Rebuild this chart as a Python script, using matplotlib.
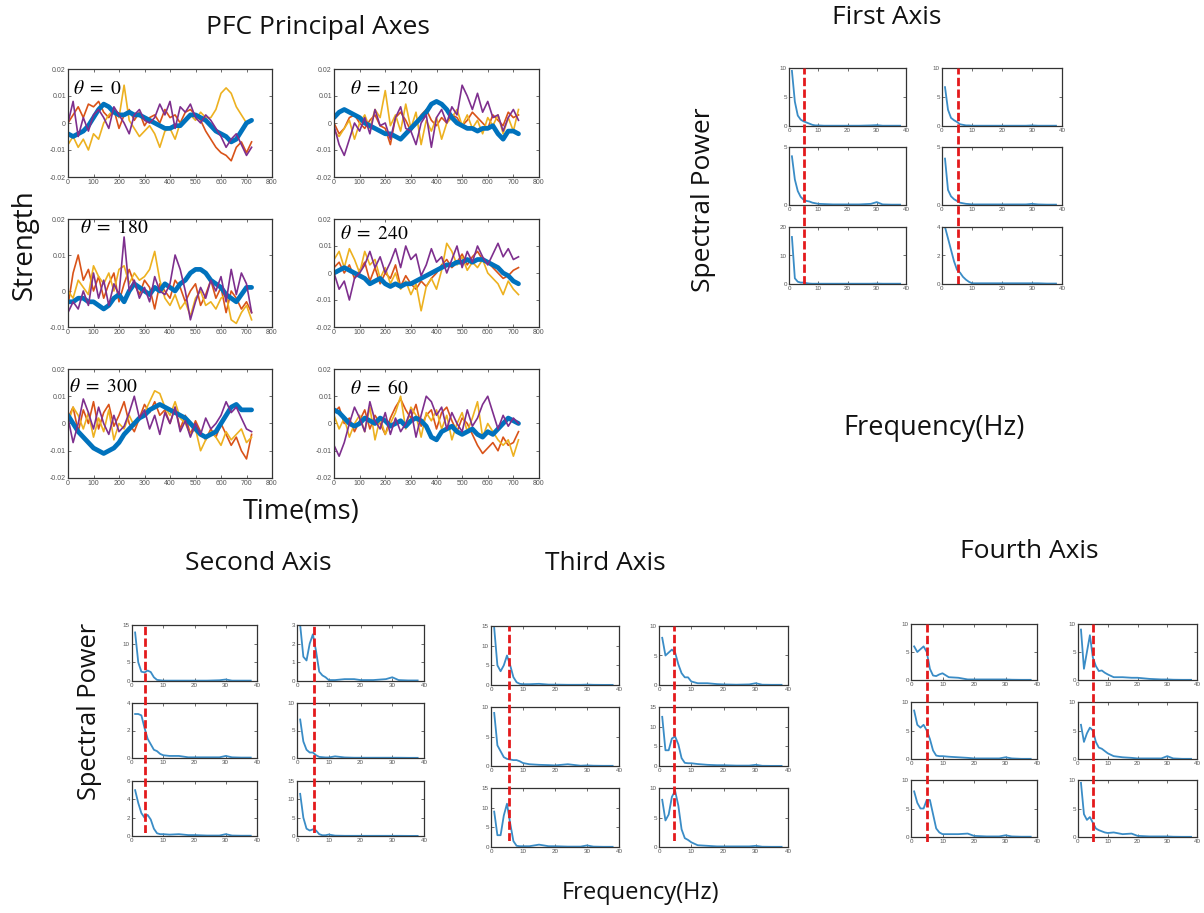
import matplotlib
matplotlib.use("Agg")
import matplotlib.pyplot as plt
import numpy as np

W, H = 1204, 913

# ---------------- time courses (strength, units of 1e-3) ----------------
time_ms = [0, 20, 40, 60, 80, 100, 120, 140, 160, 180, 200, 220, 240, 260, 280, 300, 320, 340,
           360, 380, 400, 420, 440, 460, 480, 500, 520, 540, 560, 580, 600, 620, 640, 660, 680, 700, 720]

th0_blue = [-4, -5, -4, -3, -1, 2, 5, 7, 6, 4, 3, 3, 4, 3, 3, 2, 1, 0, -1, -2, -2, -1, -1, 1, 3, 3,
            2, 1, -1, -3, -4, -5, -7, -6, -3, 0, 1]
th0_orange = [0, 3, 6, 2, 7, 6, 8, 4, 2, 5, -2, 3, 5, 1, 4, -1, 2, 3, 0, 5, 2, 3, 0, 4, 5, 3, 1,
              -3, -6, -9, -11, -12, -14, -9, -7, -11, -7]
th0_yellow = [-8, -5, -9, -6, -10, -4, -6, 0, 3, 5, 2, 14, 1, -2, -5, -3, -1, -4, -9, -3, -2, -6,
              0, 1, 3, 1, 4, 2, 2, 5, 11, 13, 11, 6, 3, 0, 1]
th0_purple = [0, 8, -5, 2, -3, 3, 5, 2, -2, 6, 3, 0, -4, 3, 5, 1, 0, 2, 7, 3, 8, -2, 6, 4, 7, 2, 0,
              3, 1, -2, -5, -9, -6, -4, -8, -12, -9]

th120_blue = [2, 4, 5, 4, 3, 2, 0, -1, -2, -3, -4, -4, -5, -6, -4, -2, 0, 2, 4, 7, 8, 7, 5, 2, 0,
              -1, -2, -2, -3, -2, -2, -1, -4, -6, -3, -3, -4]
th120_orange = [0, -4, -2, 2, 3, 0, -2, 1, 3, -1, -2, -8, 2, 4, 1, -3, 0, 3, 5, 1, -1, 2, 0, 3, 2,
                -1, 1, 4, 2, 0, -2, 3, 1, -1, 4, 2, 3]
th120_yellow = [-3, -5, -2, 1, -6, 0, 3, -2, 5, 2, 12, -1, 3, -3, 7, -2, 4, -8, 1, -3, 2, -6, 0, 2,
                5, -1, 3, -2, 1, -4, 2, -1, 3, -4, 2, -3, 5]
th120_purple = [-1, -8, -12, -6, 0, -3, 2, -4, 5, -1, 0, -6, 2, 6, -2, -3, -8, 0, 3, -9, 2, 5, 0, 6,
                3, 14, 10, 5, 11, 4, 8, 2, 3, -3, 2, 5, 1]

th180_blue = [-3, -3, -2, -2, -3, -3, -4, -5, -4, -2, -1, -3, 0, 2, 1, 0, -1, 1, 0, 2, 1, 0, 2, 3,
              5, 6, 6, 5, 3, 2, 1, -1, -2, -3, -1, 1, 1]
th180_orange = [-4, 5, 10, 3, 6, 0, 4, -2, 2, 5, -3, 2, 6, 2, -1, 3, 1, -5, 2, 0, -2, 3, 1, -3, 0,
                2, -4, -1, 3, -2, 1, -6, 0, -2, -5, -3, -6]
th180_yellow = [0, -2, 3, 1, -1, 7, 4, 2, 5, 0, 6, 7, 2, 5, 3, 4, 6, 11, 3, -2, -4, -1, -5, -3, -7,
                -2, 0, -4, -3, -5, -2, -1, -8, -9, -6, -4, -8]
th180_purple = [-6, -3, -5, 0, -4, 5, -2, 3, -4, 2, -1, 15, 0, 3, -2, 1, -3, 4, 0, -1, 2, 10, 6, 0,
                -8, -3, 1, -2, 3, 0, 4, -3, 6, -1, 5, 2, -6]

th240_blue = [0, 1, 2, 1, 0, -1, -2, -4, -3, -2, -4, -5, -4, -5, -4, -4, -3, -2, -1, 0, 1, 2, 3, 3,
              4, 4, 5, 4, 5, 5, 4, 3, 2, 0, -1, -3, -4]
th240_orange = [2, 4, 0, 3, -2, 1, 4, -3, 2, -4, 0, -2, 3, -5, -1, -4, -6, -3, -5, -2, 0, 3, 5, 2,
                4, 7, 3, 6, 8, 5, 4, 2, 0, -2, -1, 1, 2]
th240_yellow = [5, 8, 2, 9, 5, 0, 8, 3, 5, -2, 2, -4, 0, -6, -3, -8, -4, -14, -5, -2, -6, 1, 11, 8,
                3, 6, 1, 4, 2, 5, 0, -2, -4, -8, -3, -6, -8]
th240_purple = [0, -6, -3, -10, -2, 0, 3, 8, 2, 6, 0, 4, 9, 2, 10, 5, 7, -1, 3, 9, 4, 6, 0, 5, 10,
                2, 8, 4, 10, 6, 3, 7, 11, 6, 9, 5, 6]

th300_blue = [3, 0, -3, -5, -7, -9, -10, -11, -10, -9, -7, -4, -2, 0, 2, 3, 5, 6, 7, 6, 5, 4, 3, 2,
              0, -2, -4, -5, -4, -3, 0, 3, 6, 7, 5, 5, 5]
th300_orange = [2, 6, -3, 5, 0, 8, -2, 4, 7, -1, 3, 8, 0, -3, 2, 7, 4, 8, 3, 5, 0, 6, -2, 3, -4, 1,
                -3, -6, -2, -5, 0, -4, -8, -5, -10, -13, -4]
th300_yellow = [0, 6, 3, -2, 4, -5, 2, -3, 5, -6, 0, -2, 3, -1, 2, 4, 8, 12, 11, 6, 3, 8, 2, 0, -4,
                -2, -10, -6, -3, -5, -8, -3, -6, -4, -2, -7, -5]
th300_purple = [2, -7, 0, 9, 4, -2, 6, 0, -4, 3, -3, -1, 4, 10, 2, 5, -2, 3, -4, 4, 0, 6, -3, 1, -5,
                0, -4, 2, -2, 0, 3, 8, 4, 6, 2, -2, -3]

th60_blue = [5, 4, 2, 0, -1, 0, 2, 1, 0, 2, 1, -1, 0, 1, -1, 1, 2, 1, -1, -5, -6, -3, -2, -1, -3,
             -4, -3, -2, -4, -5, -3, -4, -2, 0, 2, 1, 0]
th60_orange = [4, 6, 0, 2, -3, 1, 5, -2, 3, 0, -4, 2, 6, 9, 5, 2, 7, -1, 3, 5, -2, 4, 6, 1, -3, 2,
               0, -4, -8, -11, -9, -7, -10, -5, -8, -7, -3]
th60_yellow = [3, -2, 2, -5, 0, 3, -3, 6, -6, 2, -4, 0, 4, 10, -2, 6, 3, -5, 4, 1, 5, -2, 3, -6, 0,
               4, -3, 2, 8, -5, 0, -3, -6, -8, -6, -12, -6]
th60_purple = [-8, -12, -7, 0, 6, 2, -3, 8, 1, -2, 4, -4, 2, -3, 0, 5, -5, 3, 10, 8, 3, 6, -2, 4, 0,
               -3, 5, -1, 2, 7, 10, 4, -2, 3, -1, 2, 0]

theta_names = ["0", "120", "180", "240", "300", "60"]
theta_ymin = [-0.02, -0.02, -0.01, -0.02, -0.02, -0.02]

# ---------------- spectra ----------------
freq_hz = [1, 2, 3, 4, 5, 6, 7, 8, 9, 10, 12, 15, 18, 20, 24, 28, 30, 32, 35, 38]

first_spec = [
    [9.5, 4.2, 1.8, 1.1, 0.8, 0.6, 0.4, 0.2, 0.1, 0.1, 0.05, 0.05, 0.05, 0.05, 0.05, 0.1, 0.15, 0.05, 0.05, 0.05],
    [6.7, 2.8, 1.4, 1.0, 0.7, 0.3, 0.2, 0.1, 0.1, 0.05, 0.05, 0.05, 0.05, 0.05, 0.05, 0.05, 0.1, 0.05, 0.05, 0.05],
    [4.2, 2.2, 1.2, 0.7, 0.45, 0.35, 0.3, 0.2, 0.15, 0.1, 0.08, 0.05, 0.05, 0.05, 0.05, 0.1, 0.25, 0.05, 0.03, 0.03],
    [4.0, 1.3, 0.75, 0.5, 0.35, 0.2, 0.15, 0.1, 0.08, 0.05, 0.05, 0.05, 0.05, 0.05, 0.05, 0.05, 0.1, 0.05, 0.03, 0.03],
    [16.5, 2.0, 0.8, 0.5, 0.5, 0.3, 0.15, 0.1, 0.1, 0.1, 0.1, 0.1, 0.1, 0.1, 0.1, 0.1, 0.15, 0.1, 0.1, 0.1],
    [4.0, 3.2, 2.4, 1.6, 1.0, 0.8, 0.5, 0.3, 0.15, 0.05, 0.05, 0.05, 0.05, 0.05, 0.05, 0.05, 0.05, 0.05, 0.03, 0.03],
]
second_spec = [
    [13.0, 5.0, 2.5, 2.3, 2.8, 2.4, 1.0, 0.3, 0.2, 0.1, 0.1, 0.1, 0.1, 0.1, 0.1, 0.2, 0.4, 0.1, 0.1, 0.1],
    [3.0, 1.3, 1.1, 2.0, 2.5, 1.6, 0.5, 0.3, 0.2, 0.05, 0.05, 0.1, 0.1, 0.05, 0.05, 0.1, 0.2, 0.05, 0.03, 0.03],
    [3.2, 3.2, 3.1, 2.2, 1.4, 1.0, 0.6, 0.5, 0.3, 0.2, 0.15, 0.15, 0.05, 0.05, 0.05, 0.05, 0.15, 0.05, 0.03, 0.03],
    [7.0, 3.0, 1.5, 1.0, 1.0, 0.5, 0.2, 0.15, 0.1, 0.1, 0.3, 0.1, 0.05, 0.05, 0.05, 0.05, 0.05, 0.05, 0.03, 0.03],
    [5.0, 3.6, 2.5, 2.0, 2.3, 1.8, 0.8, 0.3, 0.2, 0.2, 0.15, 0.2, 0.1, 0.1, 0.05, 0.05, 0.2, 0.05, 0.03, 0.03],
    [11.5, 5.0, 2.0, 1.5, 1.8, 1.5, 0.5, 0.2, 0.2, 0.4, 0.1, 0.05, 0.05, 0.05, 0.05, 0.05, 0.05, 0.05, 0.03, 0.03],
]
third_spec = [
    [14.5, 5.0, 3.5, 5.0, 7.5, 5.0, 2.0, 0.7, 0.3, 0.2, 0.2, 0.3, 0.1, 0.1, 0.05, 0.05, 0.1, 0.05, 0.03, 0.03],
    [8.0, 5.0, 5.5, 6.0, 5.5, 3.5, 2.0, 1.3, 1.3, 0.6, 0.3, 0.3, 0.15, 0.1, 0.05, 0.1, 0.3, 0.05, 0.03, 0.03],
    [9.0, 3.5, 2.5, 1.5, 1.2, 1.1, 1.0, 1.0, 0.8, 0.5, 0.3, 0.2, 0.15, 0.1, 0.3, 0.05, 0.1, 0.05, 0.03, 0.03],
    [12.5, 4.0, 4.0, 7.0, 7.5, 5.5, 2.0, 0.8, 0.7, 0.7, 0.5, 0.3, 0.2, 0.2, 0.1, 0.1, 0.3, 0.05, 0.03, 0.03],
    [9.0, 3.0, 3.0, 8.0, 11.0, 6.0, 1.5, 0.3, 0.2, 0.2, 0.2, 0.6, 0.2, 0.2, 0.1, 0.1, 0.4, 0.1, 0.05, 0.05],
    [8.0, 4.5, 5.5, 8.5, 9.5, 7.0, 3.0, 1.5, 1.2, 0.8, 0.3, 0.2, 0.1, 0.1, 0.1, 0.1, 0.2, 0.05, 0.03, 0.03],
]
fourth_spec = [
    [6.0, 5.0, 5.5, 6.0, 5.0, 2.0, 0.8, 0.7, 1.0, 1.2, 0.5, 0.4, 0.1, 0.1, 0.1, 0.1, 0.1, 0.05, 0.03, 0.03],
    [9.0, 2.0, 5.0, 8.0, 4.0, 2.5, 1.6, 1.7, 1.3, 1.0, 0.5, 0.5, 0.4, 0.4, 0.2, 0.1, 0.1, 0.05, 0.03, 0.03],
    [8.5, 6.0, 5.5, 6.0, 5.0, 3.5, 1.5, 0.6, 0.5, 0.5, 0.4, 0.3, 0.2, 0.1, 0.1, 0.1, 0.3, 0.1, 0.03, 0.03],
    [6.0, 3.0, 4.5, 5.5, 5.0, 3.0, 2.0, 1.8, 1.4, 1.0, 0.5, 0.3, 0.2, 0.1, 0.1, 0.1, 0.5, 0.1, 0.03, 0.03],
    [8.0, 6.0, 5.0, 5.0, 6.5, 6.5, 4.0, 1.5, 0.8, 0.5, 0.5, 0.5, 0.6, 0.2, 0.1, 0.1, 0.3, 0.1, 0.05, 0.05],
    [9.5, 4.0, 3.0, 3.5, 2.5, 1.5, 1.2, 1.0, 0.8, 0.7, 0.8, 0.5, 0.6, 0.2, 0.1, 0.1, 0.1, 0.05, 0.03, 0.03],
]
first_ymax = [10, 10, 5, 5, 20, 4]
second_ymax = [15, 3, 4, 10, 6, 15]
third_ymax = [15, 10, 10, 15, 15, 10]
fourth_ymax = [10, 10, 10, 10, 10, 10]

# cutoff frequency marked in each column (left, right)
first_cut = [5, 5.2]
second_cut = [4, 5.5]
third_cut = [5.5, 4.8]
fourth_cut = [5, 5.2]

C_BLUE = "#0072BD"
C_ORANGE = "#D95319"
C_YELLOW = "#EDB120"
C_PURPLE = "#7E2F8E"
C_SPEC = "#3a8cc6"
C_RED = "#e41a1c"

LABEL_FONT = "Open Sans"
TICK_FONT = "Liberation Sans"
plt.rcParams["mathtext.fontset"] = "stix"


def px_axes(fig, x0, y0, x1, y1):
    return fig.add_axes([x0 / W, 1 - y1 / H, (x1 - x0) / W, (y1 - y0) / H])


def style_axes(ax, fs):
    ax.tick_params(direction="in", length=2.2, width=0.6, top=True, right=True,
                   labelsize=fs, colors="#555555", pad=1.5)
    for s in ax.spines.values():
        s.set_linewidth(0.9)
        s.set_color("#333333")
    for lab in ax.get_xticklabels() + ax.get_yticklabels():
        lab.set_family(TICK_FONT)


def fig_text(fig, x, y, s, size, rot=0):
    fig.text(x / W, 1 - y / H, s, ha="center", va="center", rotation=rot,
             fontsize=size, family=LABEL_FONT, color="#111111")


def fmt_tick(v):
    return "0" if v == 0 else f"{v:g}"


fig = plt.figure(figsize=(W / 100, H / 100), dpi=100)

# ---------------- PFC time course panels ----------------
ts_cols = [(68, 272), (334, 539)]
ts_rows = [(69, 177), (219, 327), (369, 478)]
theta_pos = [(0.025, 0.82), (0.08, 0.82), (0.06, 0.92), (0.03, 0.87), (0.005, 0.84), (0.08, 0.82)]

panels = [
    (th0_orange, th0_yellow, th0_blue, th0_purple),
    (th120_orange, th120_yellow, th120_blue, th120_purple),
    (th180_orange, th180_yellow, th180_blue, th180_purple),
    (th240_orange, th240_yellow, th240_blue, th240_purple),
    (th300_orange, th300_yellow, th300_blue, th300_purple),
    (th60_orange, th60_yellow, th60_blue, th60_purple),
]

for i, (orng, yell, blue, purp) in enumerate(panels):
    r, c = divmod(i, 2)
    ax = px_axes(fig, ts_cols[c][0], ts_rows[r][0], ts_cols[c][1], ts_rows[r][1])
    t = np.array(time_ms)
    ax.plot(t, np.array(orng) * 1e-3, color=C_ORANGE, lw=1.2)
    ax.plot(t, np.array(yell) * 1e-3, color=C_YELLOW, lw=1.2)
    ax.plot(t, np.array(blue) * 1e-3, color=C_BLUE, lw=3.4, solid_capstyle="round")
    ax.plot(t, np.array(purp) * 1e-3, color=C_PURPLE, lw=1.2)
    ax.set_xlim(0, 800)
    ax.set_ylim(theta_ymin[i], 0.02)
    ax.set_xticks(range(0, 801, 100))
    yt = [v for v in [-0.02, -0.01, 0, 0.01, 0.02] if v >= theta_ymin[i]]
    ax.set_yticks(yt)
    ax.set_yticklabels([fmt_tick(v) for v in yt])
    style_axes(ax, 5)
    tx, ty = theta_pos[i]
    ax.text(tx, ty, r"$\theta\ =\ %s$" % theta_names[i], transform=ax.transAxes,
            fontsize=14, ha="left", va="center")

fig_text(fig, 318, 28, "PFC Principal Axes", 19)
fig_text(fig, 25, 245, "Strength", 20, rot=90)
fig_text(fig, 301, 512, "Time(ms)", 19.5)

# ---------------- spectral panels ----------------
groups = [
    (first_spec, first_ymax, first_cut, [(789, 906), (942, 1062)],
     [(68, 126), (147, 205), (227, 284)], (68, 284)),
    (second_spec, second_ymax, second_cut, [(132, 257), (297, 424)],
     [(625, 681), (703, 758), (781, 836)], (625, 833)),
    (third_spec, third_ymax, third_cut, [(491, 619), (659, 788)],
     [(626, 685), (707, 766), (788, 847)], (626, 841)),
    (fourth_spec, fourth_ymax, fourth_cut, [(911, 1037), (1078, 1197)],
     [(624, 680), (702, 759), (780, 837)], (624, 842)),
]
ystep = {3: 1, 4: 2, 5: 5, 6: 2, 10: 5, 15: 5, 20: 10}

for specs, ymaxs, cuts, cols, rows, vspan in groups:
    for i, spec in enumerate(specs):
        r, c = divmod(i, 2)
        ax = px_axes(fig, cols[c][0], rows[r][0], cols[c][1], rows[r][1])
        ax.plot(freq_hz, spec, color=C_SPEC, lw=1.3)
        ax.set_xlim(0, 40)
        ax.set_ylim(0, ymaxs[i])
        ax.set_xticks([0, 10, 20, 30, 40])
        ax.set_yticks(np.arange(0, ymaxs[i] + 0.01, ystep[ymaxs[i]]))
        style_axes(ax, 4.5)
    for c in range(2):
        ov = px_axes(fig, cols[c][0], vspan[0], cols[c][1], vspan[1])
        ov.set_xlim(0, 40)
        ov.set_ylim(0, 1)
        ov.axvline(cuts[c], color=C_RED, lw=2.0, ls=(0, (3, 1.2)))
        ov.axis("off")

fig_text(fig, 887, 17, "First Axis", 19)
fig_text(fig, 703, 200, "Spectral Power", 19, rot=90)
fig_text(fig, 934, 428, "Frequency(Hz)", 19.5)
fig_text(fig, 258, 563, "Second Axis", 19)
fig_text(fig, 605, 563, "Third Axis", 19)
fig_text(fig, 1029, 551, "Fourth Axis", 19)
fig_text(fig, 89, 711, "Spectral Power", 18.3, rot=90)
fig_text(fig, 640, 893, "Frequency(Hz)", 17)

fig.savefig("out.png", dpi=100)
